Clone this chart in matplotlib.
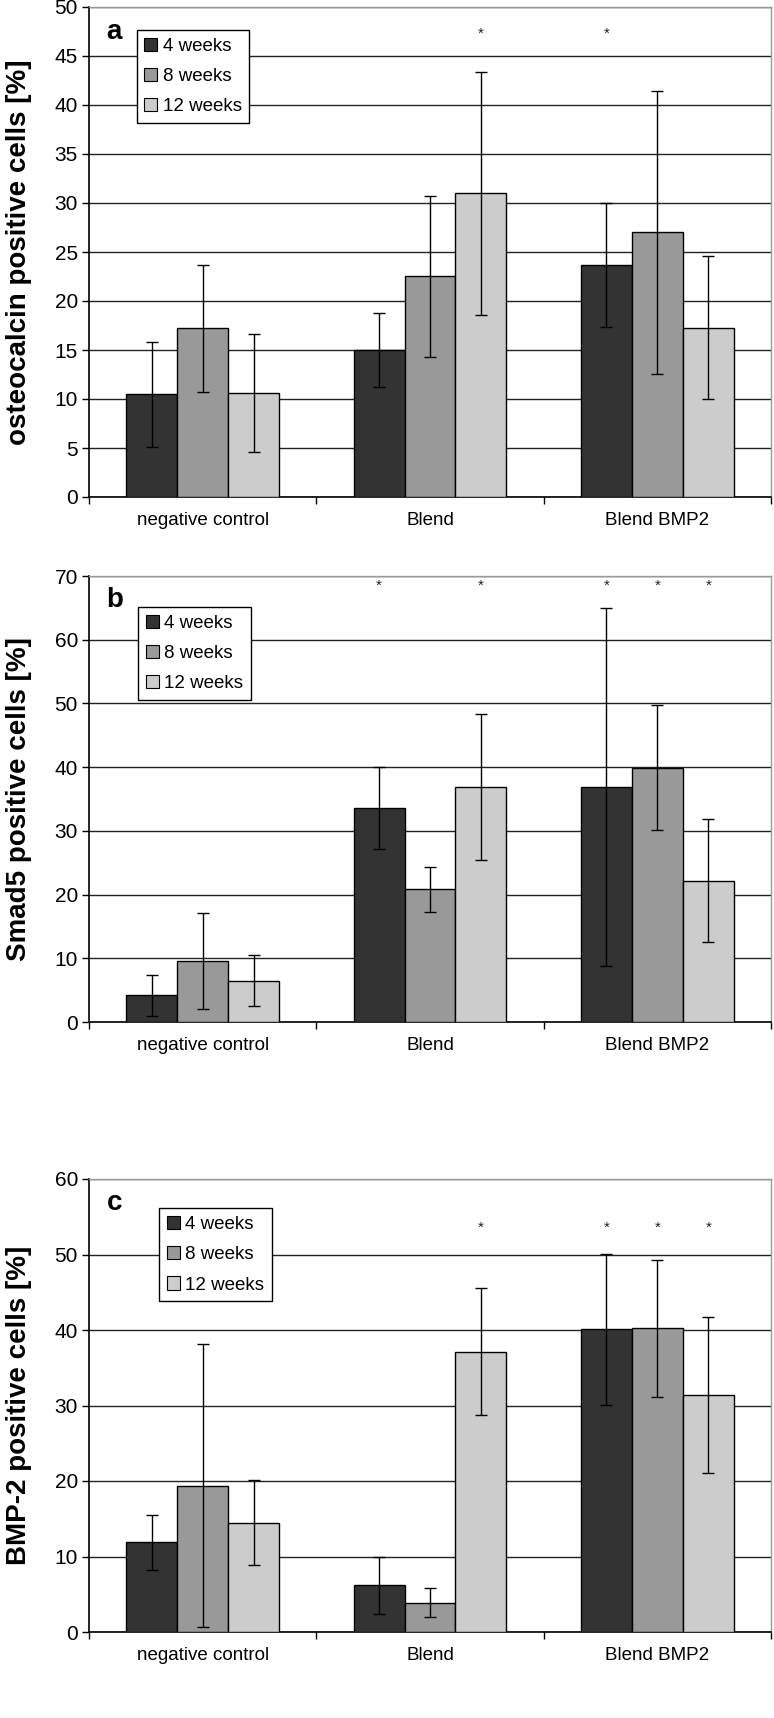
import matplotlib
matplotlib.use("Agg")
import matplotlib.pyplot as plt
import numpy as np
from matplotlib.patches import Patch

plt.rcParams['font.family'] = ['Liberation Sans', 'DejaVu Sans']

categories = ["negative control", "Blend", "Blend BMP2"]
series = ["4 weeks", "8 weeks", "12 weeks"]
colors = ["#333333", "#999999", "#cccccc"]

# Panel a: osteocalcin
a_4w = [10.5, 15.0, 23.7]
a_8w = [17.2, 22.5, 27.0]
a_12w = [10.6, 31.0, 17.25]
a_4w_sd = [5.35, 3.75, 6.35]
a_8w_sd = [6.5, 8.2, 14.4]
a_12w_sd = [6.0, 12.4, 7.3]
a_stars = [(1, 2), (2, 0)]  # (category, series)

# Panel b: Smad5
b_4w = [4.2, 33.6, 36.9]
b_8w = [9.6, 20.8, 39.9]
b_12w = [6.5, 36.9, 22.2]
b_4w_sd = [3.2, 6.4, 28.15]
b_8w_sd = [7.5, 3.55, 9.8]
b_12w_sd = [4.0, 11.5, 9.7]
b_stars = [(1, 0), (1, 2), (2, 0), (2, 1), (2, 2)]

# Panel c: BMP-2
c_4w = [11.9, 6.2, 40.1]
c_8w = [19.4, 3.9, 40.2]
c_12w = [14.5, 37.1, 31.4]
c_4w_sd = [3.65, 3.75, 10.0]
c_8w_sd = [18.7, 1.9, 9.05]
c_12w_sd = [5.6, 8.4, 10.35]
c_stars = [(1, 2), (2, 0), (2, 1), (2, 2)]

panels = [
    dict(letter="a", ylabel="osteocalcin positive cells [%]", ymax=50, step=5,
         vals=[a_4w, a_8w, a_12w], sds=[a_4w_sd, a_8w_sd, a_12w_sd], stars=a_stars, star_y=47.3,
         rect=[89/774, 1-497/1718, 682/774, 490/1718], leg=(0.070, 0.953)),
    dict(letter="b", ylabel="Smad5 positive cells [%]", ymax=70, step=10,
         vals=[b_4w, b_8w, b_12w], sds=[b_4w_sd, b_8w_sd, b_12w_sd], stars=b_stars, star_y=68.4,
         rect=[89/774, 1-1022/1718, 682/774, 446/1718], leg=(0.072, 0.93)),
    dict(letter="c", ylabel="BMP-2 positive cells [%]", ymax=60, step=10,
         vals=[c_4w, c_8w, c_12w], sds=[c_4w_sd, c_8w_sd, c_12w_sd], stars=c_stars, star_y=53.6,
         rect=[89/774, 1-1632/1718, 682/774, 453/1718], leg=(0.103, 0.935)),
]

fig = plt.figure(figsize=(7.74, 17.18), dpi=100)
x = np.arange(len(categories))
w = 0.224
offs = [-w, 0, w]

for p in panels:
    ax = fig.add_axes(p["rect"])
    for i in range(3):
        ax.bar(x + offs[i], p["vals"][i], width=w, color=colors[i], edgecolor="black",
               linewidth=1.0, zorder=3)
        ax.errorbar(x + offs[i], p["vals"][i], yerr=p["sds"][i], fmt="none", ecolor="black",
                    elinewidth=1.0, capsize=4, capthick=1.0, zorder=4)
    for (ci, si) in p["stars"]:
        ax.text(x[ci] + offs[si], p["star_y"], "*", ha="center", va="center", fontsize=11,
                color="#222222")
    ax.set_xlim(-0.5, 2.5)
    ax.set_ylim(0, p["ymax"])
    ax.set_yticks(np.arange(0, p["ymax"] + 0.1, p["step"]))
    ax.yaxis.grid(True, color="#222222", linewidth=1.0)
    ax.set_axisbelow(True)
    ax.set_xticks([-0.5, 0.5, 1.5, 2.5])
    ax.set_xticklabels([])
    ax.set_xticks(x, minor=True)
    ax.set_xticklabels(categories, minor=True, fontsize=13.5)
    ax.tick_params(axis="x", which="minor", length=0, pad=11)
    ax.tick_params(axis="x", which="major", length=5, width=1.0, direction="out")
    ax.tick_params(axis="y", length=5, width=1.0, direction="out", labelsize=15, pad=3)
    for s in ["left", "bottom"]:
        ax.spines[s].set_color("black")
        ax.spines[s].set_linewidth(1.2)
    for s in ["top", "right"]:
        ax.spines[s].set_color("#999999")
        ax.spines[s].set_linewidth(1.0)
    ax.set_ylabel(p["ylabel"], fontsize=20, fontweight="bold")
    ax.yaxis.set_label_coords(-0.0836, 0.5)
    ax.text(0.026, 0.975, p["letter"], transform=ax.transAxes, fontsize=20, fontweight="bold",
            ha="left", va="top")
    handles = [Patch(facecolor=colors[i], edgecolor="black", linewidth=0.8) for i in range(3)]
    leg = ax.legend(handles, series, loc="upper left", bbox_to_anchor=p["leg"], fontsize=13.5,
                    frameon=True, fancybox=False, framealpha=1, edgecolor="black",
                    handlelength=0.7, handleheight=0.7, handletextpad=0.3, labelspacing=0.7,
                    borderpad=0.4, borderaxespad=0)
    leg.get_frame().set_linewidth(1.0)
    leg.set_zorder(5)

fig.savefig("out.png", dpi=100)
